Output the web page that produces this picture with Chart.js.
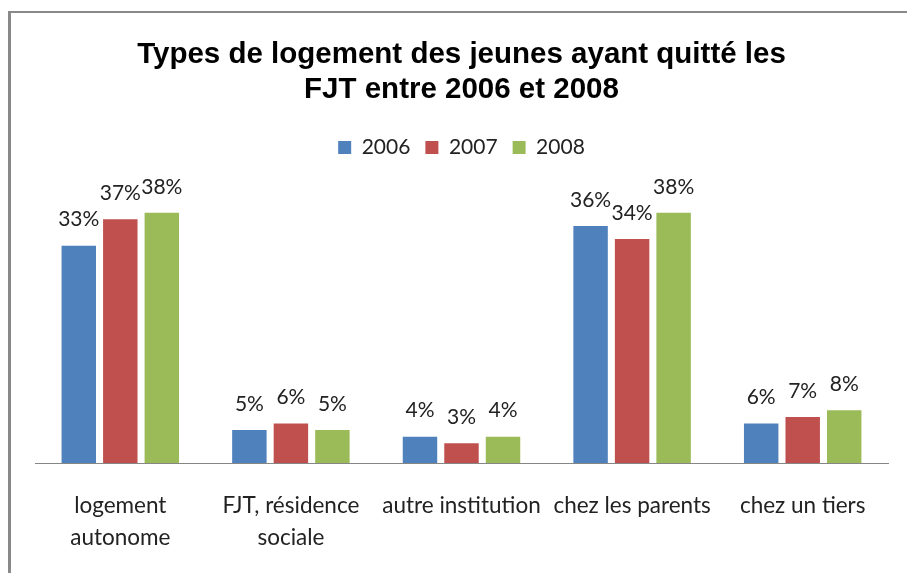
<!DOCTYPE html>
<html><head><meta charset="utf-8">
<script src="https://cdn.jsdelivr.net/npm/chart.js@4"></script>
<style>html,body{margin:0;padding:0;background:#fff}#wrap{width:907px;height:573px}</style>
</head><body><div id="wrap"><canvas id="c" width="907" height="573"></canvas></div>
<script>
const categories = [['logement','autonome'], ['FJT, résidence','sociale'], 'autre institution', 'chez les parents', 'chez un tiers'];
const years = ['2006','2007','2008'];
const values2006 = [33, 5, 4, 36, 6];
const values2007 = [37, 6, 3, 34, 7];
const values2008 = [38, 5, 4, 38, 8];
const colors = ['#4F81BD','#C0504D','#9BBB59'];

const bodyFont = "Lato, 'Open Sans', sans-serif";

const frame = {
  id:'frame',
  beforeDraw(chart){
    const ctx = chart.ctx;
    ctx.save();
    ctx.fillStyle='#fff'; ctx.fillRect(0,0,chart.width,chart.height);
    ctx.fillStyle='#898989';
    ctx.fillRect(8,11,chart.width,2);
    ctx.fillRect(8,11,3,chart.height);
    ctx.restore();
  }
};
const valueLabels = {
  id:'valueLabels',
  afterDatasetsDraw(chart){
    const ctx = chart.ctx;
    ctx.save();
    ctx.font = "21px " + bodyFont;
    ctx.fillStyle = '#222';
    ctx.textAlign='center'; ctx.textBaseline='middle';
    chart.data.datasets.forEach((ds,i)=>{
      chart.getDatasetMeta(i).data.forEach((bar,j)=>{
        ctx.fillText(ds.data[j] + '%', bar.x, bar.y - 26);
      });
    });
    ctx.restore();
  }
};

new Chart(document.getElementById('c'), {
  type:'bar',
  data:{
    labels: categories,
    datasets: [values2006, values2007, values2008].map((d,i)=>({
      label: years[i], data: d, backgroundColor: colors[i],
      categoryPercentage: 0.73, barPercentage: 0.83
    }))
  },
  options:{
    responsive:false, animation:false,
    layout:{padding:{left:35, right:19, top:0, bottom:0}},
    plugins:{
      title:{display:true, text:['Types de logement des jeunes ayant quitté les','FJT entre 2006 et 2008'],
        color:'#000', font:{family:"'Liberation Sans', Arial, sans-serif", size:29.5, weight:'bold', lineHeight:'35px'},
        padding:{top:37, bottom:15}},
      legend:{position:'top', labels:{boxWidth:13, boxHeight:13, padding:15, color:'#222',
        font:{family:bodyFont, size:21}}},
      tooltip:{enabled:false}
    },
    scales:{
      x:{grid:{display:false}, border:{display:true, color:'#868686', width:1},
        ticks:{color:'#222', padding:19, font:{family:bodyFont, size:22.5, lineHeight:'32px'}, maxRotation:0, autoSkip:false},
        afterFit(s){ s.height = 110; }},
      y:{display:false, min:0, max:44.8}
    }
  },
  plugins:[frame, valueLabels]
});
</script></body></html>
